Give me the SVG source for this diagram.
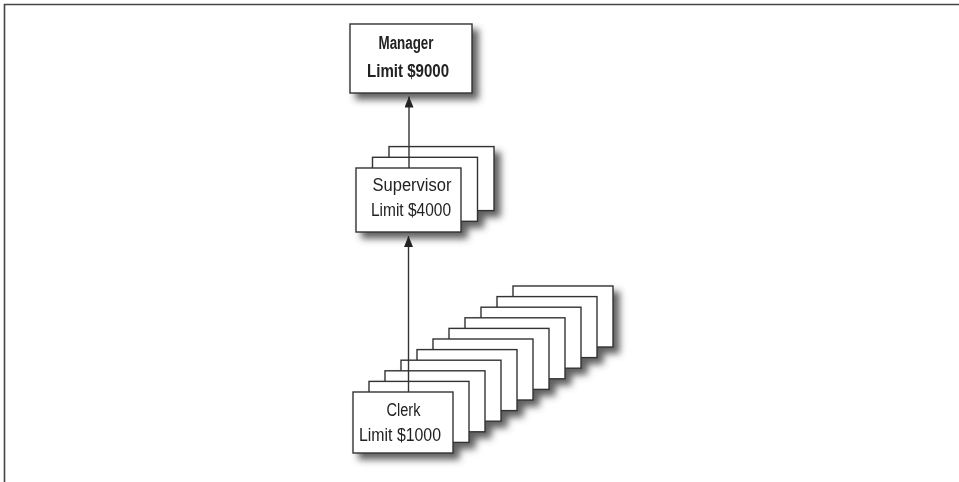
<svg xmlns="http://www.w3.org/2000/svg" width="959" height="482" viewBox="0 0 959 482">
<defs>
<filter id="sh" x="-10%" y="-10%" width="135%" height="150%">
<feGaussianBlur in="SourceAlpha" stdDeviation="3.5" result="b"/>
<feOffset in="b" dx="6" dy="6" result="o"/>
<feFlood flood-color="#444" flood-opacity="0.85"/>
<feComposite in2="o" operator="in" result="s"/>
<feMerge><feMergeNode in="s"/><feMergeNode in="SourceGraphic"/></feMerge>
</filter>
<marker id="ah" markerWidth="12" markerHeight="9" refX="11" refY="4.5" orient="auto" markerUnits="userSpaceOnUse">
<path d="M0,0 L11,4.5 L0,9 Z" fill="#222"/>
</marker>
</defs>
<style>
.b{fill:#fff;stroke:#333;stroke-width:1.4}
.t{font-family:"Liberation Sans",Arial,sans-serif;fill:#222;text-anchor:middle;font-size:17.5px}
.c{stroke:#333;stroke-width:1.4;fill:none}
</style>
<rect width="959" height="482" fill="#fff"/>
<path d="M4.5,482 V4.5 H959" fill="none" stroke="#444" stroke-width="1.6"/>
<g id="manager" filter="url(#sh)">
<rect class="b" x="350" y="24" width="122" height="69"/>
<text class="t" x="406" y="49" font-weight="bold" textLength="55" lengthAdjust="spacingAndGlyphs">Manager</text>
<text class="t" x="408" y="77" font-weight="bold" textLength="82" lengthAdjust="spacingAndGlyphs">Limit $9000</text>
</g>
<g id="supervisor" filter="url(#sh)">
<rect class="b" x="389" y="146.6" width="105" height="64"/>
<rect class="b" x="372.5" y="157.3" width="105" height="64"/>
<rect class="b" x="356" y="168" width="105" height="64"/>
<text class="t" x="412" y="190.5" textLength="79" lengthAdjust="spacingAndGlyphs">Supervisor</text>
<text class="t" x="411" y="215.5" textLength="80" lengthAdjust="spacingAndGlyphs">Limit $4000</text>
</g>
<g id="clerk" filter="url(#sh)">
<rect class="b" x="513" y="286" width="100" height="61"/>
<rect class="b" x="497" y="296.6" width="100" height="61"/>
<rect class="b" x="481" y="307.2" width="100" height="61"/>
<rect class="b" x="465" y="317.8" width="100" height="61"/>
<rect class="b" x="449" y="328.4" width="100" height="61"/>
<rect class="b" x="433" y="339" width="100" height="61"/>
<rect class="b" x="417" y="349.6" width="100" height="61"/>
<rect class="b" x="401" y="360.2" width="100" height="61"/>
<rect class="b" x="385" y="370.8" width="100" height="61"/>
<rect class="b" x="369" y="381.4" width="100" height="61"/>
<rect class="b" x="353" y="392" width="100" height="61"/>
<text class="t" x="403.5" y="416" textLength="34" lengthAdjust="spacingAndGlyphs">Clerk</text>
<text class="t" x="400" y="441" textLength="82" lengthAdjust="spacingAndGlyphs">Limit $1000</text>
</g>
<g id="connectors">
<line class="c" x1="409" y1="168" x2="409" y2="96.5" marker-end="url(#ah)"/>
<line class="c" x1="408.5" y1="392" x2="408.5" y2="236" marker-end="url(#ah)"/>
</g>
</svg>
